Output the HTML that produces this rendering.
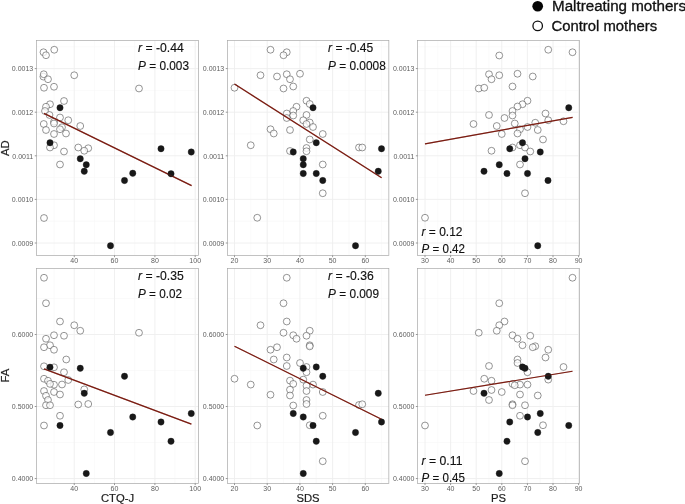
<!DOCTYPE html>
<html><head><meta charset="utf-8"><title>Figure</title>
<style>
html,body{margin:0;padding:0;background:#fff;}
body{width:685px;height:504px;overflow:hidden;font-family:"Liberation Sans",sans-serif;}
svg{display:block;opacity:0.999;will-change:transform;}
text{font-family:"Liberation Sans",sans-serif;}
.tk{font-size:7.0px;fill:#5e5e5e;}
.ax{font-size:11.25px;fill:#1c1c1c;stroke:#1c1c1c;stroke-width:0.2;}
.an{font-size:12.4px;fill:#111;stroke:#111;stroke-width:0.15;}
.lg{font-size:14px;fill:#111;stroke:#111;stroke-width:0.3;}
.o{fill:#fff;fill-opacity:0.75;stroke:#3e3e3e;stroke-width:0.55;}
.b{fill:#181818;stroke:#181818;stroke-width:0.4;}
.rl{stroke:#7a1c12;stroke-width:1.2;fill:none;stroke-linecap:butt;}
</style></head><body>
<svg width="685" height="504" viewBox="0 0 685 504">
<rect x="0" y="0" width="685" height="504" fill="#ffffff"/>
<g>
<rect x="36.45" y="40.50" width="162.15" height="215.00" fill="#ffffff"/>
<line x1="54.10" y1="40.50" x2="54.10" y2="255.50" stroke="#f6f6f6" stroke-width="0.6"/>
<line x1="94.40" y1="40.50" x2="94.40" y2="255.50" stroke="#f6f6f6" stroke-width="0.6"/>
<line x1="134.70" y1="40.50" x2="134.70" y2="255.50" stroke="#f6f6f6" stroke-width="0.6"/>
<line x1="175.00" y1="40.50" x2="175.00" y2="255.50" stroke="#f6f6f6" stroke-width="0.6"/>
<line x1="36.45" y1="46.80" x2="198.60" y2="46.80" stroke="#f6f6f6" stroke-width="0.6"/>
<line x1="36.45" y1="90.40" x2="198.60" y2="90.40" stroke="#f6f6f6" stroke-width="0.6"/>
<line x1="36.45" y1="134.00" x2="198.60" y2="134.00" stroke="#f6f6f6" stroke-width="0.6"/>
<line x1="36.45" y1="177.60" x2="198.60" y2="177.60" stroke="#f6f6f6" stroke-width="0.6"/>
<line x1="36.45" y1="221.20" x2="198.60" y2="221.20" stroke="#f6f6f6" stroke-width="0.6"/>
<line x1="74.25" y1="40.50" x2="74.25" y2="255.50" stroke="#eeeeee" stroke-width="0.9"/>
<line x1="114.50" y1="40.50" x2="114.50" y2="255.50" stroke="#eeeeee" stroke-width="0.9"/>
<line x1="154.90" y1="40.50" x2="154.90" y2="255.50" stroke="#eeeeee" stroke-width="0.9"/>
<line x1="195.20" y1="40.50" x2="195.20" y2="255.50" stroke="#eeeeee" stroke-width="0.9"/>
<line x1="36.45" y1="68.60" x2="198.60" y2="68.60" stroke="#eeeeee" stroke-width="0.9"/>
<line x1="36.45" y1="112.20" x2="198.60" y2="112.20" stroke="#eeeeee" stroke-width="0.9"/>
<line x1="36.45" y1="155.80" x2="198.60" y2="155.80" stroke="#eeeeee" stroke-width="0.9"/>
<line x1="36.45" y1="199.40" x2="198.60" y2="199.40" stroke="#eeeeee" stroke-width="0.9"/>
<line x1="36.45" y1="243.00" x2="198.60" y2="243.00" stroke="#eeeeee" stroke-width="0.9"/>
<circle class="o" cx="43.50" cy="52.25" r="3.42"/>
<circle class="o" cx="46.00" cy="55.25" r="3.42"/>
<circle class="o" cx="54.25" cy="49.75" r="3.42"/>
<circle class="o" cx="43.40" cy="76.60" r="3.42"/>
<circle class="o" cx="43.75" cy="74.25" r="3.42"/>
<circle class="o" cx="48.00" cy="79.25" r="3.42"/>
<circle class="o" cx="74.25" cy="75.25" r="3.42"/>
<circle class="o" cx="44.00" cy="87.75" r="3.42"/>
<circle class="o" cx="54.00" cy="86.75" r="3.42"/>
<circle class="o" cx="139.00" cy="88.50" r="3.42"/>
<circle class="o" cx="64.00" cy="101.00" r="3.42"/>
<circle class="o" cx="50.00" cy="104.25" r="3.42"/>
<circle class="o" cx="46.00" cy="106.75" r="3.42"/>
<circle class="o" cx="45.00" cy="111.00" r="3.42"/>
<circle class="o" cx="49.50" cy="115.00" r="3.42"/>
<circle class="o" cx="60.00" cy="117.50" r="3.42"/>
<circle class="o" cx="68.25" cy="120.25" r="3.42"/>
<circle class="o" cx="54.00" cy="121.75" r="3.42"/>
<circle class="o" cx="54.00" cy="123.50" r="3.42"/>
<circle class="o" cx="43.75" cy="124.00" r="3.42"/>
<circle class="o" cx="80.25" cy="126.00" r="3.42"/>
<circle class="o" cx="62.00" cy="127.25" r="3.42"/>
<circle class="o" cx="60.00" cy="129.25" r="3.42"/>
<circle class="o" cx="46.00" cy="130.00" r="3.42"/>
<circle class="o" cx="66.00" cy="133.50" r="3.42"/>
<circle class="o" cx="54.00" cy="134.00" r="3.42"/>
<circle class="o" cx="54.00" cy="145.25" r="3.42"/>
<circle class="o" cx="50.00" cy="147.50" r="3.42"/>
<circle class="o" cx="78.25" cy="147.50" r="3.42"/>
<circle class="o" cx="88.25" cy="148.25" r="3.42"/>
<circle class="o" cx="84.25" cy="150.75" r="3.42"/>
<circle class="o" cx="64.00" cy="151.50" r="3.42"/>
<circle class="o" cx="60.00" cy="164.50" r="3.42"/>
<circle class="o" cx="44.00" cy="218.00" r="3.42"/>
<line class="rl" x1="44.00" y1="113.40" x2="191.60" y2="185.60"/>
<circle class="b" cx="60.00" cy="107.75" r="3.15"/>
<circle class="b" cx="50.00" cy="142.75" r="3.15"/>
<circle class="b" cx="161.00" cy="148.75" r="3.15"/>
<circle class="b" cx="191.25" cy="152.00" r="3.15"/>
<circle class="b" cx="80.25" cy="158.75" r="3.15"/>
<circle class="b" cx="86.25" cy="164.75" r="3.15"/>
<circle class="b" cx="84.25" cy="171.25" r="3.15"/>
<circle class="b" cx="132.75" cy="173.25" r="3.15"/>
<circle class="b" cx="124.50" cy="180.50" r="3.15"/>
<circle class="b" cx="171.00" cy="173.75" r="3.15"/>
<circle class="b" cx="110.50" cy="245.75" r="3.15"/>
<line class="rl" opacity="0.35" x1="44.00" y1="113.40" x2="191.60" y2="185.60"/>
<rect x="36.45" y="40.50" width="162.15" height="215.00" fill="none" stroke="#a8a8a8" stroke-width="0.7"/>
<line x1="74.25" y1="255.50" x2="74.25" y2="257.20" stroke="#6a6a6a" stroke-width="0.7"/>
<text class="tk" x="74.25" y="263.40" text-anchor="middle">40</text>
<line x1="114.50" y1="255.50" x2="114.50" y2="257.20" stroke="#6a6a6a" stroke-width="0.7"/>
<text class="tk" x="114.50" y="263.40" text-anchor="middle">60</text>
<line x1="154.90" y1="255.50" x2="154.90" y2="257.20" stroke="#6a6a6a" stroke-width="0.7"/>
<text class="tk" x="154.90" y="263.40" text-anchor="middle">80</text>
<line x1="195.20" y1="255.50" x2="195.20" y2="257.20" stroke="#6a6a6a" stroke-width="0.7"/>
<text class="tk" x="195.20" y="263.40" text-anchor="middle">100</text>
<line x1="34.75" y1="68.60" x2="36.45" y2="68.60" stroke="#6a6a6a" stroke-width="0.7"/>
<text class="tk" x="33.25" y="71.35" text-anchor="end">0.0013</text>
<line x1="34.75" y1="112.20" x2="36.45" y2="112.20" stroke="#6a6a6a" stroke-width="0.7"/>
<text class="tk" x="33.25" y="114.95" text-anchor="end">0.0012</text>
<line x1="34.75" y1="155.80" x2="36.45" y2="155.80" stroke="#6a6a6a" stroke-width="0.7"/>
<text class="tk" x="33.25" y="158.55" text-anchor="end">0.0011</text>
<line x1="34.75" y1="199.40" x2="36.45" y2="199.40" stroke="#6a6a6a" stroke-width="0.7"/>
<text class="tk" x="33.25" y="202.15" text-anchor="end">0.0010</text>
<line x1="34.75" y1="243.00" x2="36.45" y2="243.00" stroke="#6a6a6a" stroke-width="0.7"/>
<text class="tk" x="33.25" y="245.75" text-anchor="end">0.0009</text>
<text class="an" x="138.05" y="52.25" textLength="45.70" lengthAdjust="spacingAndGlyphs"><tspan font-style="italic">r</tspan> = -0.44</text>
<text class="an" x="138.05" y="69.55" textLength="50.95" lengthAdjust="spacingAndGlyphs"><tspan font-style="italic">P</tspan> = 0.003</text>
</g>
<g>
<rect x="227.45" y="40.50" width="161.40" height="215.00" fill="#ffffff"/>
<line x1="250.85" y1="40.50" x2="250.85" y2="255.50" stroke="#f6f6f6" stroke-width="0.6"/>
<line x1="283.55" y1="40.50" x2="283.55" y2="255.50" stroke="#f6f6f6" stroke-width="0.6"/>
<line x1="316.25" y1="40.50" x2="316.25" y2="255.50" stroke="#f6f6f6" stroke-width="0.6"/>
<line x1="348.95" y1="40.50" x2="348.95" y2="255.50" stroke="#f6f6f6" stroke-width="0.6"/>
<line x1="381.65" y1="40.50" x2="381.65" y2="255.50" stroke="#f6f6f6" stroke-width="0.6"/>
<line x1="227.45" y1="46.80" x2="388.85" y2="46.80" stroke="#f6f6f6" stroke-width="0.6"/>
<line x1="227.45" y1="90.40" x2="388.85" y2="90.40" stroke="#f6f6f6" stroke-width="0.6"/>
<line x1="227.45" y1="134.00" x2="388.85" y2="134.00" stroke="#f6f6f6" stroke-width="0.6"/>
<line x1="227.45" y1="177.60" x2="388.85" y2="177.60" stroke="#f6f6f6" stroke-width="0.6"/>
<line x1="227.45" y1="221.20" x2="388.85" y2="221.20" stroke="#f6f6f6" stroke-width="0.6"/>
<line x1="234.50" y1="40.50" x2="234.50" y2="255.50" stroke="#eeeeee" stroke-width="0.9"/>
<line x1="267.20" y1="40.50" x2="267.20" y2="255.50" stroke="#eeeeee" stroke-width="0.9"/>
<line x1="299.90" y1="40.50" x2="299.90" y2="255.50" stroke="#eeeeee" stroke-width="0.9"/>
<line x1="332.60" y1="40.50" x2="332.60" y2="255.50" stroke="#eeeeee" stroke-width="0.9"/>
<line x1="365.30" y1="40.50" x2="365.30" y2="255.50" stroke="#eeeeee" stroke-width="0.9"/>
<line x1="227.45" y1="68.60" x2="388.85" y2="68.60" stroke="#eeeeee" stroke-width="0.9"/>
<line x1="227.45" y1="112.20" x2="388.85" y2="112.20" stroke="#eeeeee" stroke-width="0.9"/>
<line x1="227.45" y1="155.80" x2="388.85" y2="155.80" stroke="#eeeeee" stroke-width="0.9"/>
<line x1="227.45" y1="199.40" x2="388.85" y2="199.40" stroke="#eeeeee" stroke-width="0.9"/>
<line x1="227.45" y1="243.00" x2="388.85" y2="243.00" stroke="#eeeeee" stroke-width="0.9"/>
<circle class="o" cx="270.50" cy="49.75" r="3.42"/>
<circle class="o" cx="286.75" cy="52.25" r="3.42"/>
<circle class="o" cx="283.50" cy="55.25" r="3.42"/>
<circle class="o" cx="260.50" cy="75.25" r="3.42"/>
<circle class="o" cx="277.00" cy="76.50" r="3.42"/>
<circle class="o" cx="286.75" cy="74.25" r="3.42"/>
<circle class="o" cx="300.00" cy="73.75" r="3.42"/>
<circle class="o" cx="290.00" cy="79.25" r="3.42"/>
<circle class="o" cx="293.25" cy="86.50" r="3.42"/>
<circle class="o" cx="283.50" cy="88.50" r="3.42"/>
<circle class="o" cx="234.50" cy="87.75" r="3.42"/>
<circle class="o" cx="306.50" cy="100.75" r="3.42"/>
<circle class="o" cx="309.75" cy="104.00" r="3.42"/>
<circle class="o" cx="296.50" cy="106.75" r="3.42"/>
<circle class="o" cx="293.25" cy="111.00" r="3.42"/>
<circle class="o" cx="286.75" cy="113.50" r="3.42"/>
<circle class="o" cx="293.25" cy="115.50" r="3.42"/>
<circle class="o" cx="306.50" cy="115.00" r="3.42"/>
<circle class="o" cx="286.75" cy="118.00" r="3.42"/>
<circle class="o" cx="303.25" cy="120.25" r="3.42"/>
<circle class="o" cx="309.75" cy="122.50" r="3.42"/>
<circle class="o" cx="306.50" cy="124.00" r="3.42"/>
<circle class="o" cx="313.00" cy="127.00" r="3.42"/>
<circle class="o" cx="290.00" cy="130.00" r="3.42"/>
<circle class="o" cx="270.50" cy="129.25" r="3.42"/>
<circle class="o" cx="273.75" cy="133.50" r="3.42"/>
<circle class="o" cx="322.75" cy="134.00" r="3.42"/>
<circle class="o" cx="309.75" cy="139.50" r="3.42"/>
<circle class="o" cx="250.75" cy="145.25" r="3.42"/>
<circle class="o" cx="306.50" cy="148.00" r="3.42"/>
<circle class="o" cx="306.50" cy="151.25" r="3.42"/>
<circle class="o" cx="290.00" cy="151.00" r="3.42"/>
<circle class="o" cx="359.00" cy="147.50" r="3.42"/>
<circle class="o" cx="362.25" cy="147.50" r="3.42"/>
<circle class="o" cx="322.75" cy="164.50" r="3.42"/>
<circle class="o" cx="322.75" cy="193.25" r="3.42"/>
<circle class="o" cx="257.25" cy="217.75" r="3.42"/>
<line class="rl" x1="234.50" y1="84.00" x2="381.60" y2="177.80"/>
<circle class="b" cx="313.00" cy="107.75" r="3.15"/>
<circle class="b" cx="316.25" cy="142.75" r="3.15"/>
<circle class="b" cx="293.25" cy="152.00" r="3.15"/>
<circle class="b" cx="381.50" cy="148.75" r="3.15"/>
<circle class="b" cx="303.25" cy="158.75" r="3.15"/>
<circle class="b" cx="303.25" cy="164.75" r="3.15"/>
<circle class="b" cx="303.25" cy="173.50" r="3.15"/>
<circle class="b" cx="316.25" cy="173.50" r="3.15"/>
<circle class="b" cx="322.75" cy="180.50" r="3.15"/>
<circle class="b" cx="378.25" cy="171.25" r="3.15"/>
<circle class="b" cx="355.50" cy="245.75" r="3.15"/>
<line class="rl" opacity="0.35" x1="234.50" y1="84.00" x2="381.60" y2="177.80"/>
<rect x="227.45" y="40.50" width="161.40" height="215.00" fill="none" stroke="#a8a8a8" stroke-width="0.7"/>
<line x1="234.50" y1="255.50" x2="234.50" y2="257.20" stroke="#6a6a6a" stroke-width="0.7"/>
<text class="tk" x="234.50" y="263.40" text-anchor="middle">20</text>
<line x1="267.20" y1="255.50" x2="267.20" y2="257.20" stroke="#6a6a6a" stroke-width="0.7"/>
<text class="tk" x="267.20" y="263.40" text-anchor="middle">30</text>
<line x1="299.90" y1="255.50" x2="299.90" y2="257.20" stroke="#6a6a6a" stroke-width="0.7"/>
<text class="tk" x="299.90" y="263.40" text-anchor="middle">40</text>
<line x1="332.60" y1="255.50" x2="332.60" y2="257.20" stroke="#6a6a6a" stroke-width="0.7"/>
<text class="tk" x="332.60" y="263.40" text-anchor="middle">50</text>
<line x1="365.30" y1="255.50" x2="365.30" y2="257.20" stroke="#6a6a6a" stroke-width="0.7"/>
<text class="tk" x="365.30" y="263.40" text-anchor="middle">60</text>
<line x1="225.75" y1="68.60" x2="227.45" y2="68.60" stroke="#6a6a6a" stroke-width="0.7"/>
<text class="tk" x="224.25" y="71.35" text-anchor="end">0.0013</text>
<line x1="225.75" y1="112.20" x2="227.45" y2="112.20" stroke="#6a6a6a" stroke-width="0.7"/>
<text class="tk" x="224.25" y="114.95" text-anchor="end">0.0012</text>
<line x1="225.75" y1="155.80" x2="227.45" y2="155.80" stroke="#6a6a6a" stroke-width="0.7"/>
<text class="tk" x="224.25" y="158.55" text-anchor="end">0.0011</text>
<line x1="225.75" y1="199.40" x2="227.45" y2="199.40" stroke="#6a6a6a" stroke-width="0.7"/>
<text class="tk" x="224.25" y="202.15" text-anchor="end">0.0010</text>
<line x1="225.75" y1="243.00" x2="227.45" y2="243.00" stroke="#6a6a6a" stroke-width="0.7"/>
<text class="tk" x="224.25" y="245.75" text-anchor="end">0.0009</text>
<text class="an" x="328.05" y="52.25" textLength="45.20" lengthAdjust="spacingAndGlyphs"><tspan font-style="italic">r</tspan> = -0.45</text>
<text class="an" x="328.05" y="69.55" textLength="57.70" lengthAdjust="spacingAndGlyphs"><tspan font-style="italic">P</tspan> = 0.0008</text>
</g>
<g>
<rect x="417.55" y="40.50" width="162.05" height="215.00" fill="#ffffff"/>
<line x1="437.80" y1="40.50" x2="437.80" y2="255.50" stroke="#f6f6f6" stroke-width="0.6"/>
<line x1="463.40" y1="40.50" x2="463.40" y2="255.50" stroke="#f6f6f6" stroke-width="0.6"/>
<line x1="489.00" y1="40.50" x2="489.00" y2="255.50" stroke="#f6f6f6" stroke-width="0.6"/>
<line x1="514.60" y1="40.50" x2="514.60" y2="255.50" stroke="#f6f6f6" stroke-width="0.6"/>
<line x1="540.20" y1="40.50" x2="540.20" y2="255.50" stroke="#f6f6f6" stroke-width="0.6"/>
<line x1="565.80" y1="40.50" x2="565.80" y2="255.50" stroke="#f6f6f6" stroke-width="0.6"/>
<line x1="417.55" y1="46.80" x2="579.60" y2="46.80" stroke="#f6f6f6" stroke-width="0.6"/>
<line x1="417.55" y1="90.40" x2="579.60" y2="90.40" stroke="#f6f6f6" stroke-width="0.6"/>
<line x1="417.55" y1="134.00" x2="579.60" y2="134.00" stroke="#f6f6f6" stroke-width="0.6"/>
<line x1="417.55" y1="177.60" x2="579.60" y2="177.60" stroke="#f6f6f6" stroke-width="0.6"/>
<line x1="417.55" y1="221.20" x2="579.60" y2="221.20" stroke="#f6f6f6" stroke-width="0.6"/>
<line x1="425.00" y1="40.50" x2="425.00" y2="255.50" stroke="#eeeeee" stroke-width="0.9"/>
<line x1="450.60" y1="40.50" x2="450.60" y2="255.50" stroke="#eeeeee" stroke-width="0.9"/>
<line x1="476.20" y1="40.50" x2="476.20" y2="255.50" stroke="#eeeeee" stroke-width="0.9"/>
<line x1="501.80" y1="40.50" x2="501.80" y2="255.50" stroke="#eeeeee" stroke-width="0.9"/>
<line x1="527.40" y1="40.50" x2="527.40" y2="255.50" stroke="#eeeeee" stroke-width="0.9"/>
<line x1="553.00" y1="40.50" x2="553.00" y2="255.50" stroke="#eeeeee" stroke-width="0.9"/>
<line x1="578.60" y1="40.50" x2="578.60" y2="255.50" stroke="#eeeeee" stroke-width="0.9"/>
<line x1="417.55" y1="68.60" x2="579.60" y2="68.60" stroke="#eeeeee" stroke-width="0.9"/>
<line x1="417.55" y1="112.20" x2="579.60" y2="112.20" stroke="#eeeeee" stroke-width="0.9"/>
<line x1="417.55" y1="155.80" x2="579.60" y2="155.80" stroke="#eeeeee" stroke-width="0.9"/>
<line x1="417.55" y1="199.40" x2="579.60" y2="199.40" stroke="#eeeeee" stroke-width="0.9"/>
<line x1="417.55" y1="243.00" x2="579.60" y2="243.00" stroke="#eeeeee" stroke-width="0.9"/>
<circle class="o" cx="548.25" cy="49.75" r="3.42"/>
<circle class="o" cx="572.50" cy="52.25" r="3.42"/>
<circle class="o" cx="499.25" cy="55.50" r="3.42"/>
<circle class="o" cx="489.00" cy="74.25" r="3.42"/>
<circle class="o" cx="499.25" cy="75.25" r="3.42"/>
<circle class="o" cx="517.50" cy="73.75" r="3.42"/>
<circle class="o" cx="532.75" cy="76.50" r="3.42"/>
<circle class="o" cx="491.50" cy="79.25" r="3.42"/>
<circle class="o" cx="512.50" cy="86.50" r="3.42"/>
<circle class="o" cx="478.75" cy="88.50" r="3.42"/>
<circle class="o" cx="484.25" cy="87.75" r="3.42"/>
<circle class="o" cx="527.50" cy="100.75" r="3.42"/>
<circle class="o" cx="522.50" cy="104.25" r="3.42"/>
<circle class="o" cx="517.50" cy="106.50" r="3.42"/>
<circle class="o" cx="512.50" cy="111.00" r="3.42"/>
<circle class="o" cx="545.50" cy="113.50" r="3.42"/>
<circle class="o" cx="489.00" cy="115.00" r="3.42"/>
<circle class="o" cx="512.50" cy="115.50" r="3.42"/>
<circle class="o" cx="504.50" cy="118.00" r="3.42"/>
<circle class="o" cx="548.25" cy="120.25" r="3.42"/>
<circle class="o" cx="563.50" cy="121.25" r="3.42"/>
<circle class="o" cx="535.25" cy="122.75" r="3.42"/>
<circle class="o" cx="514.75" cy="123.50" r="3.42"/>
<circle class="o" cx="473.50" cy="124.00" r="3.42"/>
<circle class="o" cx="496.75" cy="126.00" r="3.42"/>
<circle class="o" cx="527.50" cy="127.00" r="3.42"/>
<circle class="o" cx="520.00" cy="129.25" r="3.42"/>
<circle class="o" cx="537.75" cy="130.00" r="3.42"/>
<circle class="o" cx="517.50" cy="133.50" r="3.42"/>
<circle class="o" cx="501.75" cy="134.00" r="3.42"/>
<circle class="o" cx="543.00" cy="139.50" r="3.42"/>
<circle class="o" cx="520.00" cy="145.25" r="3.42"/>
<circle class="o" cx="512.50" cy="147.50" r="3.42"/>
<circle class="o" cx="525.00" cy="147.50" r="3.42"/>
<circle class="o" cx="491.50" cy="150.75" r="3.42"/>
<circle class="o" cx="530.25" cy="151.50" r="3.42"/>
<circle class="o" cx="520.00" cy="164.50" r="3.42"/>
<circle class="o" cx="525.00" cy="193.25" r="3.42"/>
<circle class="o" cx="425.00" cy="217.75" r="3.42"/>
<line class="rl" x1="425.00" y1="143.80" x2="572.60" y2="117.40"/>
<circle class="b" cx="568.75" cy="107.75" r="3.15"/>
<circle class="b" cx="522.50" cy="142.75" r="3.15"/>
<circle class="b" cx="509.75" cy="148.75" r="3.15"/>
<circle class="b" cx="540.25" cy="152.00" r="3.15"/>
<circle class="b" cx="525.00" cy="158.75" r="3.15"/>
<circle class="b" cx="499.25" cy="164.75" r="3.15"/>
<circle class="b" cx="484.00" cy="171.25" r="3.15"/>
<circle class="b" cx="507.00" cy="173.50" r="3.15"/>
<circle class="b" cx="527.50" cy="173.50" r="3.15"/>
<circle class="b" cx="548.00" cy="180.50" r="3.15"/>
<circle class="b" cx="537.75" cy="245.75" r="3.15"/>
<line class="rl" opacity="0.35" x1="425.00" y1="143.80" x2="572.60" y2="117.40"/>
<rect x="417.55" y="40.50" width="162.05" height="215.00" fill="none" stroke="#a8a8a8" stroke-width="0.7"/>
<line x1="425.00" y1="255.50" x2="425.00" y2="257.20" stroke="#6a6a6a" stroke-width="0.7"/>
<text class="tk" x="425.00" y="263.40" text-anchor="middle">30</text>
<line x1="450.60" y1="255.50" x2="450.60" y2="257.20" stroke="#6a6a6a" stroke-width="0.7"/>
<text class="tk" x="450.60" y="263.40" text-anchor="middle">40</text>
<line x1="476.20" y1="255.50" x2="476.20" y2="257.20" stroke="#6a6a6a" stroke-width="0.7"/>
<text class="tk" x="476.20" y="263.40" text-anchor="middle">50</text>
<line x1="501.80" y1="255.50" x2="501.80" y2="257.20" stroke="#6a6a6a" stroke-width="0.7"/>
<text class="tk" x="501.80" y="263.40" text-anchor="middle">60</text>
<line x1="527.40" y1="255.50" x2="527.40" y2="257.20" stroke="#6a6a6a" stroke-width="0.7"/>
<text class="tk" x="527.40" y="263.40" text-anchor="middle">70</text>
<line x1="553.00" y1="255.50" x2="553.00" y2="257.20" stroke="#6a6a6a" stroke-width="0.7"/>
<text class="tk" x="553.00" y="263.40" text-anchor="middle">80</text>
<line x1="578.60" y1="255.50" x2="578.60" y2="257.20" stroke="#6a6a6a" stroke-width="0.7"/>
<text class="tk" x="578.60" y="263.40" text-anchor="middle">90</text>
<line x1="415.85" y1="68.60" x2="417.55" y2="68.60" stroke="#6a6a6a" stroke-width="0.7"/>
<text class="tk" x="414.35" y="71.35" text-anchor="end">0.0013</text>
<line x1="415.85" y1="112.20" x2="417.55" y2="112.20" stroke="#6a6a6a" stroke-width="0.7"/>
<text class="tk" x="414.35" y="114.95" text-anchor="end">0.0012</text>
<line x1="415.85" y1="155.80" x2="417.55" y2="155.80" stroke="#6a6a6a" stroke-width="0.7"/>
<text class="tk" x="414.35" y="158.55" text-anchor="end">0.0011</text>
<line x1="415.85" y1="199.40" x2="417.55" y2="199.40" stroke="#6a6a6a" stroke-width="0.7"/>
<text class="tk" x="414.35" y="202.15" text-anchor="end">0.0010</text>
<line x1="415.85" y1="243.00" x2="417.55" y2="243.00" stroke="#6a6a6a" stroke-width="0.7"/>
<text class="tk" x="414.35" y="245.75" text-anchor="end">0.0009</text>
<text class="an" x="421.55" y="236.00" textLength="40.95" lengthAdjust="spacingAndGlyphs"><tspan font-style="italic">r</tspan> = 0.12</text>
<text class="an" x="421.55" y="252.50" textLength="43.45" lengthAdjust="spacingAndGlyphs"><tspan font-style="italic">P</tspan> = 0.42</text>
</g>
<g>
<rect x="36.45" y="268.50" width="162.15" height="214.90" fill="#ffffff"/>
<line x1="54.10" y1="268.50" x2="54.10" y2="483.40" stroke="#f6f6f6" stroke-width="0.6"/>
<line x1="94.40" y1="268.50" x2="94.40" y2="483.40" stroke="#f6f6f6" stroke-width="0.6"/>
<line x1="134.70" y1="268.50" x2="134.70" y2="483.40" stroke="#f6f6f6" stroke-width="0.6"/>
<line x1="175.00" y1="268.50" x2="175.00" y2="483.40" stroke="#f6f6f6" stroke-width="0.6"/>
<line x1="36.45" y1="298.50" x2="198.60" y2="298.50" stroke="#f6f6f6" stroke-width="0.6"/>
<line x1="36.45" y1="370.50" x2="198.60" y2="370.50" stroke="#f6f6f6" stroke-width="0.6"/>
<line x1="36.45" y1="442.50" x2="198.60" y2="442.50" stroke="#f6f6f6" stroke-width="0.6"/>
<line x1="74.25" y1="268.50" x2="74.25" y2="483.40" stroke="#eeeeee" stroke-width="0.9"/>
<line x1="114.50" y1="268.50" x2="114.50" y2="483.40" stroke="#eeeeee" stroke-width="0.9"/>
<line x1="154.90" y1="268.50" x2="154.90" y2="483.40" stroke="#eeeeee" stroke-width="0.9"/>
<line x1="195.20" y1="268.50" x2="195.20" y2="483.40" stroke="#eeeeee" stroke-width="0.9"/>
<line x1="36.45" y1="334.50" x2="198.60" y2="334.50" stroke="#eeeeee" stroke-width="0.9"/>
<line x1="36.45" y1="406.50" x2="198.60" y2="406.50" stroke="#eeeeee" stroke-width="0.9"/>
<line x1="36.45" y1="478.55" x2="198.60" y2="478.55" stroke="#eeeeee" stroke-width="0.9"/>
<circle class="o" cx="44.00" cy="277.75" r="3.42"/>
<circle class="o" cx="46.00" cy="303.25" r="3.42"/>
<circle class="o" cx="60.00" cy="321.50" r="3.42"/>
<circle class="o" cx="74.25" cy="325.25" r="3.42"/>
<circle class="o" cx="80.25" cy="330.75" r="3.42"/>
<circle class="o" cx="139.00" cy="332.75" r="3.42"/>
<circle class="o" cx="54.00" cy="335.25" r="3.42"/>
<circle class="o" cx="64.00" cy="335.75" r="3.42"/>
<circle class="o" cx="46.00" cy="338.75" r="3.42"/>
<circle class="o" cx="50.00" cy="345.25" r="3.42"/>
<circle class="o" cx="44.00" cy="347.25" r="3.42"/>
<circle class="o" cx="54.00" cy="349.75" r="3.42"/>
<circle class="o" cx="66.25" cy="359.50" r="3.42"/>
<circle class="o" cx="44.00" cy="366.30" r="3.42"/>
<circle class="o" cx="54.00" cy="367.30" r="3.42"/>
<circle class="o" cx="64.00" cy="372.25" r="3.42"/>
<circle class="o" cx="44.00" cy="378.75" r="3.42"/>
<circle class="o" cx="48.00" cy="380.75" r="3.42"/>
<circle class="o" cx="68.25" cy="380.00" r="3.42"/>
<circle class="o" cx="54.00" cy="384.75" r="3.42"/>
<circle class="o" cx="50.00" cy="383.90" r="3.42"/>
<circle class="o" cx="62.00" cy="384.50" r="3.42"/>
<circle class="o" cx="84.25" cy="389.40" r="3.42"/>
<circle class="o" cx="44.00" cy="391.00" r="3.42"/>
<circle class="o" cx="54.00" cy="392.00" r="3.42"/>
<circle class="o" cx="60.00" cy="394.50" r="3.42"/>
<circle class="o" cx="46.00" cy="395.75" r="3.42"/>
<circle class="o" cx="48.00" cy="400.00" r="3.42"/>
<circle class="o" cx="78.25" cy="404.50" r="3.42"/>
<circle class="o" cx="88.25" cy="404.00" r="3.42"/>
<circle class="o" cx="46.00" cy="405.25" r="3.42"/>
<circle class="o" cx="50.00" cy="405.25" r="3.42"/>
<circle class="o" cx="60.00" cy="415.75" r="3.42"/>
<circle class="o" cx="44.00" cy="425.50" r="3.42"/>
<line class="rl" x1="44.00" y1="368.90" x2="191.40" y2="424.10"/>
<circle class="b" cx="50.00" cy="367.20" r="3.15"/>
<circle class="b" cx="80.25" cy="368.25" r="3.15"/>
<circle class="b" cx="124.50" cy="376.25" r="3.15"/>
<circle class="b" cx="84.25" cy="393.25" r="3.15"/>
<circle class="b" cx="191.25" cy="413.50" r="3.15"/>
<circle class="b" cx="132.75" cy="417.00" r="3.15"/>
<circle class="b" cx="161.00" cy="422.00" r="3.15"/>
<circle class="b" cx="60.00" cy="425.50" r="3.15"/>
<circle class="b" cx="110.50" cy="432.50" r="3.15"/>
<circle class="b" cx="171.00" cy="441.25" r="3.15"/>
<circle class="b" cx="86.25" cy="473.50" r="3.15"/>
<line class="rl" opacity="0.35" x1="44.00" y1="368.90" x2="191.40" y2="424.10"/>
<rect x="36.45" y="268.50" width="162.15" height="214.90" fill="none" stroke="#a8a8a8" stroke-width="0.7"/>
<line x1="74.25" y1="483.40" x2="74.25" y2="485.10" stroke="#6a6a6a" stroke-width="0.7"/>
<text class="tk" x="74.25" y="491.30" text-anchor="middle">40</text>
<line x1="114.50" y1="483.40" x2="114.50" y2="485.10" stroke="#6a6a6a" stroke-width="0.7"/>
<text class="tk" x="114.50" y="491.30" text-anchor="middle">60</text>
<line x1="154.90" y1="483.40" x2="154.90" y2="485.10" stroke="#6a6a6a" stroke-width="0.7"/>
<text class="tk" x="154.90" y="491.30" text-anchor="middle">80</text>
<line x1="195.20" y1="483.40" x2="195.20" y2="485.10" stroke="#6a6a6a" stroke-width="0.7"/>
<text class="tk" x="195.20" y="491.30" text-anchor="middle">100</text>
<line x1="34.75" y1="334.50" x2="36.45" y2="334.50" stroke="#6a6a6a" stroke-width="0.7"/>
<text class="tk" x="33.25" y="337.25" text-anchor="end">0.6000</text>
<line x1="34.75" y1="406.50" x2="36.45" y2="406.50" stroke="#6a6a6a" stroke-width="0.7"/>
<text class="tk" x="33.25" y="409.25" text-anchor="end">0.5000</text>
<line x1="34.75" y1="478.55" x2="36.45" y2="478.55" stroke="#6a6a6a" stroke-width="0.7"/>
<text class="tk" x="33.25" y="481.30" text-anchor="end">0.4000</text>
<text class="an" x="138.05" y="280.25" textLength="45.70" lengthAdjust="spacingAndGlyphs"><tspan font-style="italic">r</tspan> = -0.35</text>
<text class="an" x="138.05" y="297.55" textLength="43.95" lengthAdjust="spacingAndGlyphs"><tspan font-style="italic">P</tspan> = 0.02</text>
</g>
<g>
<rect x="227.45" y="268.50" width="161.40" height="214.90" fill="#ffffff"/>
<line x1="250.85" y1="268.50" x2="250.85" y2="483.40" stroke="#f6f6f6" stroke-width="0.6"/>
<line x1="283.55" y1="268.50" x2="283.55" y2="483.40" stroke="#f6f6f6" stroke-width="0.6"/>
<line x1="316.25" y1="268.50" x2="316.25" y2="483.40" stroke="#f6f6f6" stroke-width="0.6"/>
<line x1="348.95" y1="268.50" x2="348.95" y2="483.40" stroke="#f6f6f6" stroke-width="0.6"/>
<line x1="381.65" y1="268.50" x2="381.65" y2="483.40" stroke="#f6f6f6" stroke-width="0.6"/>
<line x1="227.45" y1="298.50" x2="388.85" y2="298.50" stroke="#f6f6f6" stroke-width="0.6"/>
<line x1="227.45" y1="370.50" x2="388.85" y2="370.50" stroke="#f6f6f6" stroke-width="0.6"/>
<line x1="227.45" y1="442.50" x2="388.85" y2="442.50" stroke="#f6f6f6" stroke-width="0.6"/>
<line x1="234.50" y1="268.50" x2="234.50" y2="483.40" stroke="#eeeeee" stroke-width="0.9"/>
<line x1="267.20" y1="268.50" x2="267.20" y2="483.40" stroke="#eeeeee" stroke-width="0.9"/>
<line x1="299.90" y1="268.50" x2="299.90" y2="483.40" stroke="#eeeeee" stroke-width="0.9"/>
<line x1="332.60" y1="268.50" x2="332.60" y2="483.40" stroke="#eeeeee" stroke-width="0.9"/>
<line x1="365.30" y1="268.50" x2="365.30" y2="483.40" stroke="#eeeeee" stroke-width="0.9"/>
<line x1="227.45" y1="334.50" x2="388.85" y2="334.50" stroke="#eeeeee" stroke-width="0.9"/>
<line x1="227.45" y1="406.50" x2="388.85" y2="406.50" stroke="#eeeeee" stroke-width="0.9"/>
<line x1="227.45" y1="478.55" x2="388.85" y2="478.55" stroke="#eeeeee" stroke-width="0.9"/>
<circle class="o" cx="286.75" cy="277.75" r="3.42"/>
<circle class="o" cx="283.50" cy="303.25" r="3.42"/>
<circle class="o" cx="286.75" cy="321.50" r="3.42"/>
<circle class="o" cx="260.50" cy="325.25" r="3.42"/>
<circle class="o" cx="309.75" cy="330.75" r="3.42"/>
<circle class="o" cx="283.50" cy="332.75" r="3.42"/>
<circle class="o" cx="293.25" cy="335.25" r="3.42"/>
<circle class="o" cx="306.50" cy="335.75" r="3.42"/>
<circle class="o" cx="296.50" cy="338.75" r="3.42"/>
<circle class="o" cx="309.75" cy="345.25" r="3.42"/>
<circle class="o" cx="309.75" cy="346.40" r="3.42"/>
<circle class="o" cx="277.00" cy="347.25" r="3.42"/>
<circle class="o" cx="270.50" cy="349.75" r="3.42"/>
<circle class="o" cx="286.75" cy="357.50" r="3.42"/>
<circle class="o" cx="273.75" cy="359.50" r="3.42"/>
<circle class="o" cx="300.00" cy="363.00" r="3.42"/>
<circle class="o" cx="286.75" cy="366.00" r="3.42"/>
<circle class="o" cx="306.50" cy="367.00" r="3.42"/>
<circle class="o" cx="306.50" cy="372.25" r="3.42"/>
<circle class="o" cx="234.50" cy="378.75" r="3.42"/>
<circle class="o" cx="303.25" cy="379.60" r="3.42"/>
<circle class="o" cx="290.00" cy="380.60" r="3.42"/>
<circle class="o" cx="293.25" cy="383.90" r="3.42"/>
<circle class="o" cx="250.75" cy="384.60" r="3.42"/>
<circle class="o" cx="313.00" cy="384.60" r="3.42"/>
<circle class="o" cx="306.50" cy="385.75" r="3.42"/>
<circle class="o" cx="290.00" cy="389.70" r="3.42"/>
<circle class="o" cx="306.50" cy="391.00" r="3.42"/>
<circle class="o" cx="322.75" cy="392.00" r="3.42"/>
<circle class="o" cx="270.50" cy="394.75" r="3.42"/>
<circle class="o" cx="290.00" cy="395.50" r="3.42"/>
<circle class="o" cx="306.50" cy="400.00" r="3.42"/>
<circle class="o" cx="306.50" cy="404.00" r="3.42"/>
<circle class="o" cx="293.25" cy="405.50" r="3.42"/>
<circle class="o" cx="359.00" cy="405.00" r="3.42"/>
<circle class="o" cx="362.25" cy="404.25" r="3.42"/>
<circle class="o" cx="322.75" cy="415.75" r="3.42"/>
<circle class="o" cx="257.25" cy="425.50" r="3.42"/>
<circle class="o" cx="309.75" cy="425.25" r="3.42"/>
<circle class="o" cx="322.75" cy="461.25" r="3.42"/>
<line class="rl" x1="234.50" y1="346.25" x2="381.50" y2="419.25"/>
<circle class="b" cx="303.25" cy="368.25" r="3.15"/>
<circle class="b" cx="316.25" cy="367.00" r="3.15"/>
<circle class="b" cx="322.75" cy="376.25" r="3.15"/>
<circle class="b" cx="378.25" cy="393.25" r="3.15"/>
<circle class="b" cx="293.25" cy="413.50" r="3.15"/>
<circle class="b" cx="303.25" cy="417.00" r="3.15"/>
<circle class="b" cx="381.50" cy="422.00" r="3.15"/>
<circle class="b" cx="313.00" cy="425.50" r="3.15"/>
<circle class="b" cx="355.50" cy="432.50" r="3.15"/>
<circle class="b" cx="316.25" cy="441.25" r="3.15"/>
<circle class="b" cx="303.25" cy="473.50" r="3.15"/>
<line class="rl" opacity="0.35" x1="234.50" y1="346.25" x2="381.50" y2="419.25"/>
<rect x="227.45" y="268.50" width="161.40" height="214.90" fill="none" stroke="#a8a8a8" stroke-width="0.7"/>
<line x1="234.50" y1="483.40" x2="234.50" y2="485.10" stroke="#6a6a6a" stroke-width="0.7"/>
<text class="tk" x="234.50" y="491.30" text-anchor="middle">20</text>
<line x1="267.20" y1="483.40" x2="267.20" y2="485.10" stroke="#6a6a6a" stroke-width="0.7"/>
<text class="tk" x="267.20" y="491.30" text-anchor="middle">30</text>
<line x1="299.90" y1="483.40" x2="299.90" y2="485.10" stroke="#6a6a6a" stroke-width="0.7"/>
<text class="tk" x="299.90" y="491.30" text-anchor="middle">40</text>
<line x1="332.60" y1="483.40" x2="332.60" y2="485.10" stroke="#6a6a6a" stroke-width="0.7"/>
<text class="tk" x="332.60" y="491.30" text-anchor="middle">50</text>
<line x1="365.30" y1="483.40" x2="365.30" y2="485.10" stroke="#6a6a6a" stroke-width="0.7"/>
<text class="tk" x="365.30" y="491.30" text-anchor="middle">60</text>
<line x1="225.75" y1="334.50" x2="227.45" y2="334.50" stroke="#6a6a6a" stroke-width="0.7"/>
<text class="tk" x="224.25" y="337.25" text-anchor="end">0.6000</text>
<line x1="225.75" y1="406.50" x2="227.45" y2="406.50" stroke="#6a6a6a" stroke-width="0.7"/>
<text class="tk" x="224.25" y="409.25" text-anchor="end">0.5000</text>
<line x1="225.75" y1="478.55" x2="227.45" y2="478.55" stroke="#6a6a6a" stroke-width="0.7"/>
<text class="tk" x="224.25" y="481.30" text-anchor="end">0.4000</text>
<text class="an" x="328.05" y="280.25" textLength="45.70" lengthAdjust="spacingAndGlyphs"><tspan font-style="italic">r</tspan> = -0.36</text>
<text class="an" x="328.05" y="297.55" textLength="50.95" lengthAdjust="spacingAndGlyphs"><tspan font-style="italic">P</tspan> = 0.009</text>
</g>
<g>
<rect x="417.55" y="268.50" width="162.05" height="214.90" fill="#ffffff"/>
<line x1="437.80" y1="268.50" x2="437.80" y2="483.40" stroke="#f6f6f6" stroke-width="0.6"/>
<line x1="463.40" y1="268.50" x2="463.40" y2="483.40" stroke="#f6f6f6" stroke-width="0.6"/>
<line x1="489.00" y1="268.50" x2="489.00" y2="483.40" stroke="#f6f6f6" stroke-width="0.6"/>
<line x1="514.60" y1="268.50" x2="514.60" y2="483.40" stroke="#f6f6f6" stroke-width="0.6"/>
<line x1="540.20" y1="268.50" x2="540.20" y2="483.40" stroke="#f6f6f6" stroke-width="0.6"/>
<line x1="565.80" y1="268.50" x2="565.80" y2="483.40" stroke="#f6f6f6" stroke-width="0.6"/>
<line x1="417.55" y1="298.50" x2="579.60" y2="298.50" stroke="#f6f6f6" stroke-width="0.6"/>
<line x1="417.55" y1="370.50" x2="579.60" y2="370.50" stroke="#f6f6f6" stroke-width="0.6"/>
<line x1="417.55" y1="442.50" x2="579.60" y2="442.50" stroke="#f6f6f6" stroke-width="0.6"/>
<line x1="425.00" y1="268.50" x2="425.00" y2="483.40" stroke="#eeeeee" stroke-width="0.9"/>
<line x1="450.60" y1="268.50" x2="450.60" y2="483.40" stroke="#eeeeee" stroke-width="0.9"/>
<line x1="476.20" y1="268.50" x2="476.20" y2="483.40" stroke="#eeeeee" stroke-width="0.9"/>
<line x1="501.80" y1="268.50" x2="501.80" y2="483.40" stroke="#eeeeee" stroke-width="0.9"/>
<line x1="527.40" y1="268.50" x2="527.40" y2="483.40" stroke="#eeeeee" stroke-width="0.9"/>
<line x1="553.00" y1="268.50" x2="553.00" y2="483.40" stroke="#eeeeee" stroke-width="0.9"/>
<line x1="578.60" y1="268.50" x2="578.60" y2="483.40" stroke="#eeeeee" stroke-width="0.9"/>
<line x1="417.55" y1="334.50" x2="579.60" y2="334.50" stroke="#eeeeee" stroke-width="0.9"/>
<line x1="417.55" y1="406.50" x2="579.60" y2="406.50" stroke="#eeeeee" stroke-width="0.9"/>
<line x1="417.55" y1="478.55" x2="579.60" y2="478.55" stroke="#eeeeee" stroke-width="0.9"/>
<circle class="o" cx="572.50" cy="277.75" r="3.42"/>
<circle class="o" cx="499.25" cy="303.25" r="3.42"/>
<circle class="o" cx="504.50" cy="321.50" r="3.42"/>
<circle class="o" cx="499.25" cy="325.25" r="3.42"/>
<circle class="o" cx="496.75" cy="330.75" r="3.42"/>
<circle class="o" cx="478.75" cy="332.75" r="3.42"/>
<circle class="o" cx="512.50" cy="335.25" r="3.42"/>
<circle class="o" cx="530.25" cy="335.75" r="3.42"/>
<circle class="o" cx="517.50" cy="338.75" r="3.42"/>
<circle class="o" cx="522.50" cy="345.25" r="3.42"/>
<circle class="o" cx="535.25" cy="346.25" r="3.42"/>
<circle class="o" cx="532.75" cy="347.25" r="3.42"/>
<circle class="o" cx="548.25" cy="349.75" r="3.42"/>
<circle class="o" cx="545.50" cy="357.50" r="3.42"/>
<circle class="o" cx="517.50" cy="359.50" r="3.42"/>
<circle class="o" cx="517.50" cy="363.00" r="3.42"/>
<circle class="o" cx="489.00" cy="366.00" r="3.42"/>
<circle class="o" cx="563.50" cy="367.00" r="3.42"/>
<circle class="o" cx="527.50" cy="372.25" r="3.42"/>
<circle class="o" cx="484.25" cy="378.75" r="3.42"/>
<circle class="o" cx="548.25" cy="379.60" r="3.42"/>
<circle class="o" cx="491.50" cy="380.75" r="3.42"/>
<circle class="o" cx="512.50" cy="383.90" r="3.42"/>
<circle class="o" cx="520.00" cy="384.60" r="3.42"/>
<circle class="o" cx="527.50" cy="384.60" r="3.42"/>
<circle class="o" cx="514.75" cy="385.25" r="3.42"/>
<circle class="o" cx="473.50" cy="391.00" r="3.42"/>
<circle class="o" cx="491.50" cy="390.00" r="3.42"/>
<circle class="o" cx="501.75" cy="392.00" r="3.42"/>
<circle class="o" cx="520.00" cy="394.50" r="3.42"/>
<circle class="o" cx="537.75" cy="395.50" r="3.42"/>
<circle class="o" cx="489.00" cy="400.00" r="3.42"/>
<circle class="o" cx="512.50" cy="404.25" r="3.42"/>
<circle class="o" cx="512.50" cy="405.25" r="3.42"/>
<circle class="o" cx="525.00" cy="405.25" r="3.42"/>
<circle class="o" cx="520.00" cy="415.75" r="3.42"/>
<circle class="o" cx="543.00" cy="425.25" r="3.42"/>
<circle class="o" cx="425.00" cy="425.50" r="3.42"/>
<circle class="o" cx="525.00" cy="461.25" r="3.42"/>
<line class="rl" x1="425.00" y1="395.25" x2="572.50" y2="371.25"/>
<circle class="b" cx="522.50" cy="367.00" r="3.15"/>
<circle class="b" cx="525.00" cy="368.25" r="3.15"/>
<circle class="b" cx="548.25" cy="376.25" r="3.15"/>
<circle class="b" cx="484.00" cy="393.25" r="3.15"/>
<circle class="b" cx="540.25" cy="413.50" r="3.15"/>
<circle class="b" cx="527.50" cy="417.00" r="3.15"/>
<circle class="b" cx="509.75" cy="422.00" r="3.15"/>
<circle class="b" cx="568.75" cy="425.50" r="3.15"/>
<circle class="b" cx="537.75" cy="432.50" r="3.15"/>
<circle class="b" cx="507.00" cy="441.25" r="3.15"/>
<circle class="b" cx="499.25" cy="473.50" r="3.15"/>
<line class="rl" opacity="0.35" x1="425.00" y1="395.25" x2="572.50" y2="371.25"/>
<rect x="417.55" y="268.50" width="162.05" height="214.90" fill="none" stroke="#a8a8a8" stroke-width="0.7"/>
<line x1="425.00" y1="483.40" x2="425.00" y2="485.10" stroke="#6a6a6a" stroke-width="0.7"/>
<text class="tk" x="425.00" y="491.30" text-anchor="middle">30</text>
<line x1="450.60" y1="483.40" x2="450.60" y2="485.10" stroke="#6a6a6a" stroke-width="0.7"/>
<text class="tk" x="450.60" y="491.30" text-anchor="middle">40</text>
<line x1="476.20" y1="483.40" x2="476.20" y2="485.10" stroke="#6a6a6a" stroke-width="0.7"/>
<text class="tk" x="476.20" y="491.30" text-anchor="middle">50</text>
<line x1="501.80" y1="483.40" x2="501.80" y2="485.10" stroke="#6a6a6a" stroke-width="0.7"/>
<text class="tk" x="501.80" y="491.30" text-anchor="middle">60</text>
<line x1="527.40" y1="483.40" x2="527.40" y2="485.10" stroke="#6a6a6a" stroke-width="0.7"/>
<text class="tk" x="527.40" y="491.30" text-anchor="middle">70</text>
<line x1="553.00" y1="483.40" x2="553.00" y2="485.10" stroke="#6a6a6a" stroke-width="0.7"/>
<text class="tk" x="553.00" y="491.30" text-anchor="middle">80</text>
<line x1="578.60" y1="483.40" x2="578.60" y2="485.10" stroke="#6a6a6a" stroke-width="0.7"/>
<text class="tk" x="578.60" y="491.30" text-anchor="middle">90</text>
<line x1="415.85" y1="334.50" x2="417.55" y2="334.50" stroke="#6a6a6a" stroke-width="0.7"/>
<text class="tk" x="414.35" y="337.25" text-anchor="end">0.6000</text>
<line x1="415.85" y1="406.50" x2="417.55" y2="406.50" stroke="#6a6a6a" stroke-width="0.7"/>
<text class="tk" x="414.35" y="409.25" text-anchor="end">0.5000</text>
<line x1="415.85" y1="478.55" x2="417.55" y2="478.55" stroke="#6a6a6a" stroke-width="0.7"/>
<text class="tk" x="414.35" y="481.30" text-anchor="end">0.4000</text>
<text class="an" x="421.55" y="464.70" textLength="40.95" lengthAdjust="spacingAndGlyphs"><tspan font-style="italic">r</tspan> = 0.11</text>
<text class="an" x="421.55" y="481.75" textLength="43.45" lengthAdjust="spacingAndGlyphs"><tspan font-style="italic">P</tspan> = 0.45</text>
</g>
<text class="ax" x="117.5" y="502.1" text-anchor="middle">CTQ-J</text>
<text class="ax" x="308.0" y="502.1" text-anchor="middle">SDS</text>
<text class="ax" x="498.5" y="502.1" text-anchor="middle">PS</text>
<text class="ax" transform="translate(9.2,148.2) rotate(-90)" text-anchor="middle">AD</text>
<text class="ax" transform="translate(9.2,375.7) rotate(-90)" text-anchor="middle">FA</text>
<circle cx="537.7" cy="6.25" r="5.35" fill="#050505"/>
<circle cx="537.7" cy="25.9" r="4.75" fill="#ffffff" stroke="#111" stroke-width="1.3"/>
<text class="lg" x="552.0" y="11.4" textLength="134.0" lengthAdjust="spacingAndGlyphs">Maltreating mothers</text>
<text class="lg" x="551.5" y="31.4" textLength="105.6" lengthAdjust="spacingAndGlyphs">Control mothers</text>
</svg>
</body></html>
